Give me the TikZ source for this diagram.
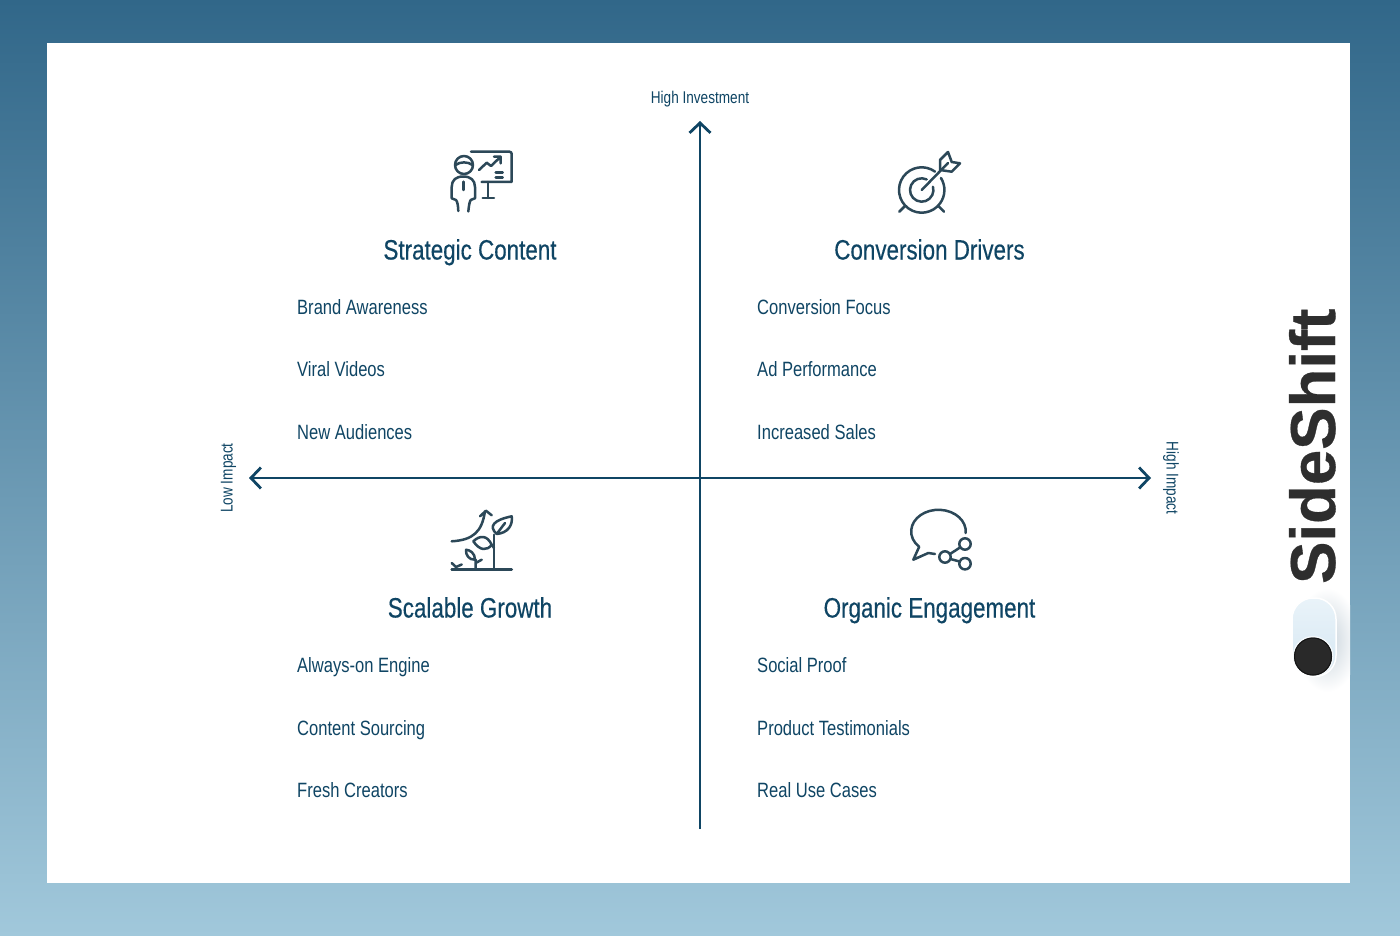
\documentclass[tikz,border=0pt]{standalone}
\usepackage{fontspec}
\usepackage{xcolor}
\usepackage{tikz}
\usetikzlibrary{arrows.meta}
\setmainfont[FakeStretch=0.8]{Liberation Sans}
\newfontfamily\headfont[FakeStretch=0.8,FakeBold=0.35]{Liberation Sans}
\newfontfamily\logofont[FakeBold=0.5]{Liberation Sans}
\definecolor{inkblue}{HTML}{0F4564}
\definecolor{iconslate}{HTML}{2C4858}
\definecolor{backtop}{HTML}{316789}
\definecolor{backbottom}{HTML}{A1C8DB}
\definecolor{togglelow}{HTML}{D6E7F2}
\definecolor{togglehigh}{HTML}{E9F3F9}
\definecolor{shadowgray}{HTML}{C8D3DB}
\tikzset{
    heading/.style={text=inkblue,font=\headfont\fontsize{28}{30}\selectfont,anchor=base,inner sep=0pt},
    entry/.style={text=inkblue,font=\fontsize{20.7}{24}\selectfont,anchor=base west,inner sep=0pt},
    axislabel/.style={text=inkblue,font=\fontsize{17}{20}\selectfont,anchor=base,inner sep=0pt},
    axisline/.style={draw=inkblue,line width=2.8pt},
    icon/.style={draw=iconslate,line width=2.5pt,line cap=round,line join=round}
}
\begin{document}
\begin{tikzpicture}[x=1pt,y=1pt]
    \useasboundingbox (0,0) rectangle (1400,-936);
    % backdrop and panel
    \shade[top color=backtop,bottom color=backbottom] (0,0) rectangle (1400,-936);
    \fill[white] (47,-43) rectangle (1350,-883);

    % axes
    \coordinate (axisleft) at (249,-478);
    \coordinate (axisright) at (1151,-478);
    \coordinate (axistop) at (700,-121);
    \coordinate (axisbottom) at (700,-829);
    \draw[axisline,{Straight Barb[length=10pt,width=21pt]}-{Straight Barb[length=10pt,width=21pt]}] (axisleft) -- (axisright);
    \draw[axisline,-{Straight Barb[length=10pt,width=21pt]}] (axisbottom) -- (axistop);
    \node[axislabel] (highinvest) at (700,-104) {High Investment};
    \node[axislabel,rotate=90] (lowimpact) at (232.5,-478) {Low Impact};
    \node[axislabel,rotate=-90] (highimpact) at (1166.5,-478) {High Impact};

    % quadrant texts
    \node[heading] (strategic) at (470,-259.5) {Strategic Content};
    \node[entry] (brand) at (297,-314.5) {Brand Awareness};
    \node[entry] (viral) at (297,-376.5) {Viral Videos};
    \node[entry] (audiences) at (297,-439) {New Audiences};

    \node[heading] (conversion) at (929.5,-259.5) {Conversion Drivers};
    \node[entry] (focus) at (757,-314.5) {Conversion Focus};
    \node[entry] (adperf) at (757,-376.5) {Ad Performance};
    \node[entry] (sales) at (757,-439) {Increased Sales};

    \node[heading] (scalable) at (470,-617.5) {Scalable Growth};
    \node[entry] (engine) at (297,-672.5) {Always-on Engine};
    \node[entry] (sourcing) at (297,-735) {Content Sourcing};
    \node[entry] (creators) at (297,-797.5) {Fresh Creators};

    \node[heading] (organic) at (929.5,-617.5) {Organic Engagement};
    \node[entry] (proof) at (757,-672.5) {Social Proof};
    \node[entry] (testimonials) at (757,-735) {Product Testimonials};
    \node[entry] (usecases) at (757,-797.5) {Real Use Cases};

    % presenter icon
    \draw[icon] (464,-165) circle (9);
    \draw[icon] (455.5,-165) .. controls (460,-161.5) and (468,-161.5) .. (472.5,-165);
    \draw[icon] (471,-151.7) -- (509.5,-151.7) arc (90:0:2.2) -- (511.7,-182) -- (481.7,-182);
    \draw[icon] (488,-182) -- (488,-198) (482.7,-198) -- (494,-198);
    \draw[icon] (479,-170) -- (486.7,-162.7) -- (491,-166) -- (500.7,-156.7) (494,-156.7) -- (500.7,-156.7) -- (500.7,-163.4);
    \draw[icon] (495.7,-172.7) -- (502.7,-172.7) (495.7,-177.7) -- (502.7,-177.7);
    \draw[icon] (458.3,-211) .. controls (458,-205) and (457.5,-202) .. (456,-200) -- (451.7,-198.3) -- (451.7,-187) .. controls (451.7,-180) and (456,-176.5) .. (463.3,-176.5) .. controls (470.5,-176.5) and (475,-180) .. (475,-187) -- (475,-198.3) -- (470.7,-200) .. controls (469.5,-202) and (469,-205) .. (468.3,-211.5);
    \draw[icon] (463.3,-181.7) -- (463.3,-190);

    % target icon
    \draw[icon] ([shift={(54:22.7)}]921.7,-190) arc (54:392:22.7);
    \draw[icon] ([shift={(65:11.7)}]921.7,-190) arc (65:376:11.7);
    \draw[icon] (921.7,-190) -- (948,-163);
    \draw[icon] (940,-170) -- (940,-160) -- (948,-152) -- (951.7,-162) -- (960,-163.3) -- (951.7,-171.7) -- cycle;
    \draw[icon] (899.3,-211.7) -- (905,-206) (944,-211.7) -- (938.3,-206);

    % growth icon
    \draw[icon,line width=2.8pt] (451.7,-569.7) -- (511.7,-569.7);
    \draw[icon] (494,-569.7) -- (494,-534.7);
    \draw[icon] (496.7,-534) .. controls (488,-526) and (494,-520) .. (511.7,-516.3) .. controls (513,-525) and (508,-533) .. (496.7,-534) -- (505,-523);
    \draw[icon] (473.3,-541.3) .. controls (480,-535) and (487,-535) .. (491.7,-544.7) .. controls (487,-551) and (480,-551) .. (473.3,-541.3);
    \draw[icon] (491.7,-544.7) -- (494,-548);
    \draw[icon] (466,-549.7) .. controls (470,-550) and (475,-553) .. (475,-559.7) .. controls (469,-560) and (465.5,-555) .. (466,-549.7);
    \draw[icon] (475.7,-569.7) -- (475.7,-559.7) (475.7,-563) -- (481.7,-559.7);
    \draw[icon] (456,-569.7) -- (456,-567) (451.7,-563) -- (456,-567) -- (461.7,-564.5);
    \draw[icon] (451.7,-541.3) .. controls (473,-540) and (482,-532) .. (485,-511) (480,-516.3) -- (486,-510.7) -- (491.7,-515.3);

    % chat icon
    \draw[icon] (965.7,-533) arc (-4:225:27.3 and 21.7) -- (913.3,-559.7) -- (928.3,-553) -- (935,-554);
    \draw[icon] (945,-557) circle (5.7);
    \draw[icon] (965,-544) circle (5.7);
    \draw[icon] (965,-563.7) circle (5.7);
    \draw[icon] (950,-554) -- (960,-547.5) (950.5,-559) -- (959.5,-561.5);

    % logo
    \begin{scope}
        \clip (1270,-560) rectangle (1350,-720);
        \shade[inner color=shadowgray,outer color=white] (1327,-640) ellipse (32 and 52);
    \end{scope}
    \shade[top color=togglehigh,bottom color=togglelow,rounded corners=21pt,draw=white,line width=1.5pt] (1292,-598) rectangle (1336,-676.5);
    \fill[white,opacity=.7] (1313,-656.5) circle (20.5);
    \fill[black!84] (1313,-656.5) circle (19);
    \draw[black!92,line width=1pt] (1313,-656.5) circle (18.5);
    \node[text=black!82,font=\logofont\bfseries\fontsize{63.5}{64}\selectfont,rotate=90,anchor=base,inner sep=0pt] (sideshift) at (1335,-446.3) {SideShift};
\end{tikzpicture}
\end{document}
